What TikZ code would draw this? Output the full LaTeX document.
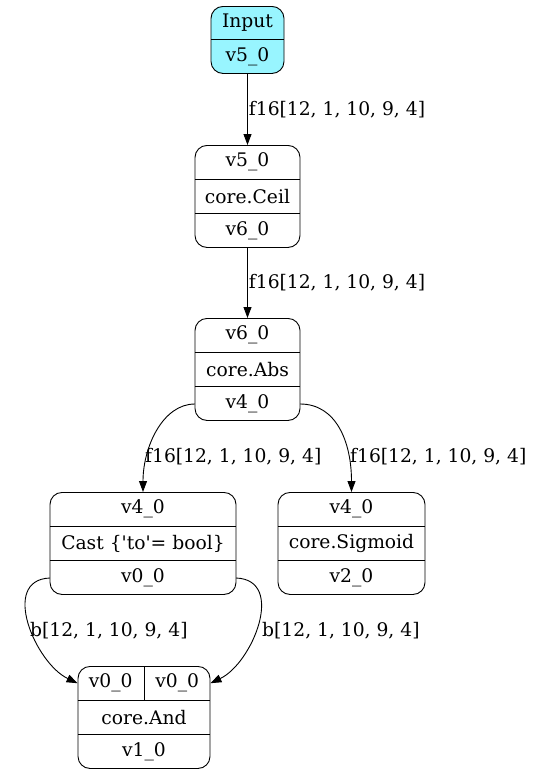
\documentclass[tikz,border=0pt]{standalone}
\usepackage{fontspec}
\setmainfont{DejaVu Serif}
\usetikzlibrary{arrows.meta}
\definecolor{inputcyan}{HTML}{98F5FF}
\tikzset{
  recbox/.style={draw, line width=0.9pt, rounded corners=12pt, inner sep=0pt},
  recrow/.style={inner sep=0pt, minimum height=34pt, font=\fontsize{18.7}{22}\selectfont},
  divider/.style={line width=0.9pt},
  flow/.style={line width=0.9pt, -{Triangle[length=11pt,width=8pt]}},
  elabel/.style={inner sep=0pt, font=\fontsize{18.7}{22}\selectfont},
}
% three-row record: name, centre x, top y, width, three texts
\newcommand{\recordnode}[7]{%
  \node[recbox, minimum width=#4pt, minimum height=102pt, anchor=north] (#1) at (#2,#3) {};
  \node[recrow, minimum width=#4pt, anchor=north] (#1-a) at (#1.north) {#5};
  \node[recrow, minimum width=#4pt, anchor=north] (#1-b) at (#1-a.south) {#6};
  \node[recrow, minimum width=#4pt, anchor=north] (#1-c) at (#1-b.south) {#7};
  \draw[divider] (#1-a.south west) -- (#1-a.south east);
  \draw[divider] (#1-b.south west) -- (#1-b.south east);
}
\begin{document}
\begin{tikzpicture}[x=1pt,y=-1pt]
\useasboundingbox (0,0) rectangle (533,774);

% input record
\node[recbox, fill=inputcyan, minimum width=73pt, minimum height=67pt, anchor=north] (inp) at (247.5,6) {};
\node[recrow, minimum height=33.5pt, minimum width=73pt, anchor=north] (inp-a) at (inp.north) {Input};
\node[recrow, minimum height=33.5pt, minimum width=73pt, anchor=north] (inp-b) at (inp-a.south) {v5\_0};
\draw[divider] (inp-a.south west) -- (inp-a.south east);

\recordnode{ceil}{247.5}{145}{105}{v5\_0}{core.Ceil}{v6\_0}
\recordnode{abs}{247.5}{318}{105}{v6\_0}{core.Abs}{v4\_0}
\recordnode{cast}{143}{492}{186}{v4\_0}{Cast \{\textquotesingle to\textquotesingle= bool\}}{v0\_0}
\recordnode{sig}{351.5}{492}{147}{v4\_0}{core.Sigmoid}{v2\_0}

% and record with a split input row
\node[recbox, minimum width=132pt, minimum height=102pt, anchor=north] (and) at (144,666) {};
\node[recrow, minimum width=66pt, anchor=north west] (and-a1) at (and.north west) {v0\_0};
\node[recrow, minimum width=66pt, anchor=north east] (and-a2) at (and.north east) {v0\_0};
\node[recrow, minimum width=132pt, anchor=north] (and-b) at (and-a1.south east) {core.And};
\node[recrow, minimum width=132pt, anchor=north] (and-c) at (and-b.south) {v1\_0};
\draw[divider] (and-a1.south west) -- (and-a2.south east);
\draw[divider] (and-b.south west) -- (and-b.south east);
\draw[divider] (and-a1.north east) -- (and-a1.south east);

% connectors
\draw[flow] (inp-b.south) -- (ceil.north)
  node[elabel, anchor=west, pos=0.5, xshift=1pt] {f16[12, 1, 10, 9, 4]};
\draw[flow] (ceil-c.south) -- (abs.north)
  node[elabel, anchor=west, pos=0.5, xshift=1pt] {f16[12, 1, 10, 9, 4]};
\draw[flow] (abs-c.west) .. controls +(-32,0) and +(0,-45) .. (cast.north);
\draw[flow] (abs-c.east) .. controls +(36,0) and +(0,-50) .. (sig.north);
\draw[flow] (cast-c.west) .. controls +(-50,2) and +(-42,-20) .. (and-a1.west);
\draw[flow] (cast-c.east) .. controls +(50,2) and +(42,-20) .. (and-a2.east);

\node[elabel, anchor=west] (lab3) at (145,457) {f16[12, 1, 10, 9, 4]};
\node[elabel, anchor=west] (lab4) at (350,457) {f16[12, 1, 10, 9, 4]};
\node[elabel, anchor=west] (lab5) at (30,631) {b[12, 1, 10, 9, 4]};
\node[elabel, anchor=west] (lab6) at (262,631) {b[12, 1, 10, 9, 4]};
\end{tikzpicture}
\end{document}
